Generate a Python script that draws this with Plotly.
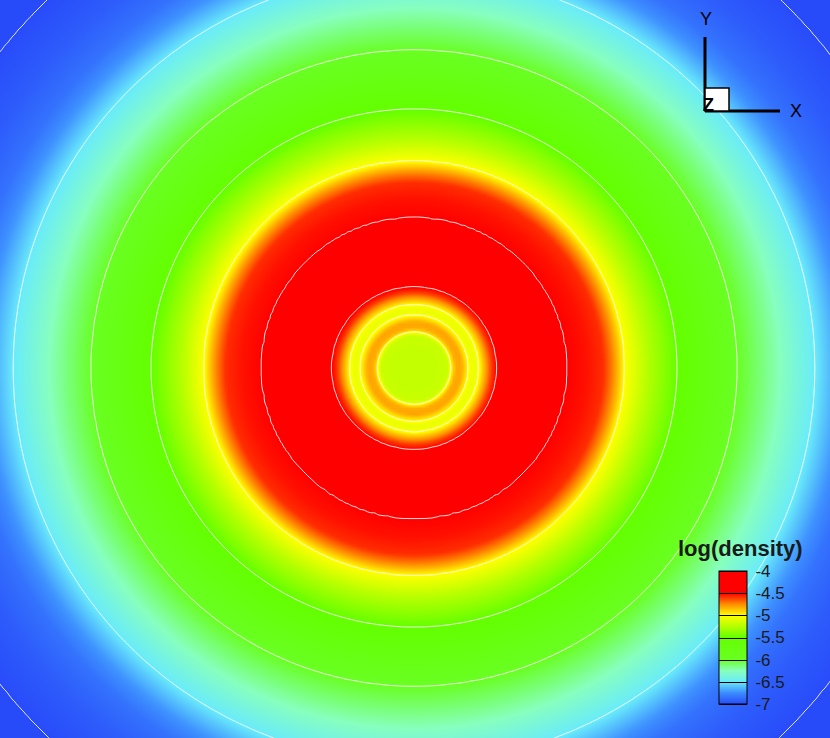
import numpy as np
import plotly.graph_objects as go

# radial profile of log(density) (radius in pixels from the centre)
radius = [0, 20, 33, 36, 40, 46, 53, 58, 64, 70, 76, 81, 90, 110, 130, 150,
          170, 186, 196, 207, 230, 259, 290, 318, 360, 395, 420, 440, 470, 516, 600]
log_density = [-5.2, -5.2, -5.18, -5.0, -4.82, -4.8, -5.0, -5.08, -5.0, -4.8, -4.6, -4.5,
               -4.4, -4.35, -4.38, -4.5, -4.53, -4.58, -4.75, -5.0, -5.25, -5.5, -5.75,
               -6.0, -6.25, -6.5, -6.72, -6.85, -6.93, -7.0, -7.15]

levels = [-7, -6.5, -6, -5.5, -5, -4.5, -4]
level_labels = ["-7", "-6.5", "-6", "-5.5", "-5", "-4.5", "-4"]

# colour map similar to the tecplot one
cmap = [
    [0.0, "rgb(40,75,250)"],
    [0.0833, "rgb(60,140,255)"],
    [0.1667, "rgb(105,235,250)"],
    [0.25, "rgb(135,255,190)"],
    [0.3333, "rgb(105,255,35)"],
    [0.5, "rgb(100,255,0)"],
    [0.5833, "rgb(180,255,0)"],
    [0.6667, "rgb(255,255,0)"],
    [0.75, "rgb(255,140,0)"],
    [0.8333, "rgb(255,0,0)"],
    [1.0, "rgb(255,0,0)"],
]

cx, cy = 414, 368
xs = np.arange(0, 833, 3)
ys = np.arange(0, 741, 3)
X, Y = np.meshgrid(xs, ys)
R = np.sqrt(((X - cx) / 1.015) ** 2 + (Y - cy) ** 2)
Z = np.round(np.interp(R, radius, log_density), 3)

fig = go.Figure()
fig.add_trace(go.Heatmap(x=xs, y=ys, z=Z, zmin=-7, zmax=-4, colorscale=cmap,
                         zsmooth="best", showscale=False, hoverinfo="skip"))
fig.add_trace(go.Contour(x=xs, y=ys, z=Z, showscale=False, hoverinfo="skip",
                         contours=dict(start=-7, end=-4.5, size=0.5, coloring="none"),
                         line=dict(color="rgba(255,255,255,0.85)", width=1)))

# off-screen trace, only used to get a legend with black level lines
fig.add_trace(go.Contour(
    x=[-1000, -999], y=[-1000, -999], z=[[-7, -4], [-4, -7]],
    zmin=-7, zmax=-4, colorscale=cmap, hoverinfo="skip",
    contours=dict(start=-7, end=-4, size=0.5, coloring="heatmap"),
    line=dict(color="black", width=1),
    colorbar=dict(
        x=719 / 830, xanchor="left", y=1 - 637.5 / 738, yanchor="middle",
        thickness=28, len=133, lenmode="pixels", xpad=0, ypad=0,
        outlinecolor="black", outlinewidth=1,
        tickmode="array", tickvals=levels, ticktext=level_labels,
        ticks="outside", ticklen=5, tickcolor="rgba(0,0,0,0)",
        tickfont=dict(family="Liberation Sans, Arial", size=17, color="#1a1a1a"),
    ),
))

fig.add_annotation(x=740, y=548, text="<b>log(density)</b>", showarrow=False,
                   font=dict(family="Liberation Sans, Arial", size=22, color="#1a1a1a"))

# little axis triad in the top right corner
fig.add_shape(type="line", x0=705, y0=37, x1=705, y1=111, line=dict(color="black", width=3))
fig.add_shape(type="line", x0=705, y0=111, x1=780, y1=111, line=dict(color="black", width=3))
fig.add_shape(type="rect", x0=705, y0=88, x1=729, y1=111, fillcolor="white",
              line=dict(color="black", width=1.5))
for txt, tx, ty in [("Y", 706, 19), ("X", 796, 111), ("<b>Z</b>", 708, 105)]:
    fig.add_annotation(x=tx, y=ty, text=txt, showarrow=False,
                       font=dict(family="Liberation Sans, Arial", size=18, color="black"))

fig.update_xaxes(range=[0, 830], visible=False)
fig.update_yaxes(range=[738, 0], visible=False)
fig.update_layout(width=830, height=738, margin=dict(l=0, r=0, t=0, b=0),
                  plot_bgcolor="white", paper_bgcolor="white", showlegend=False)

# drop the default 8px page margin so the figure fills the window
fig.write_html("out.html", config={"displayModeBar": False},
               post_script="document.body.style.margin='0';")
